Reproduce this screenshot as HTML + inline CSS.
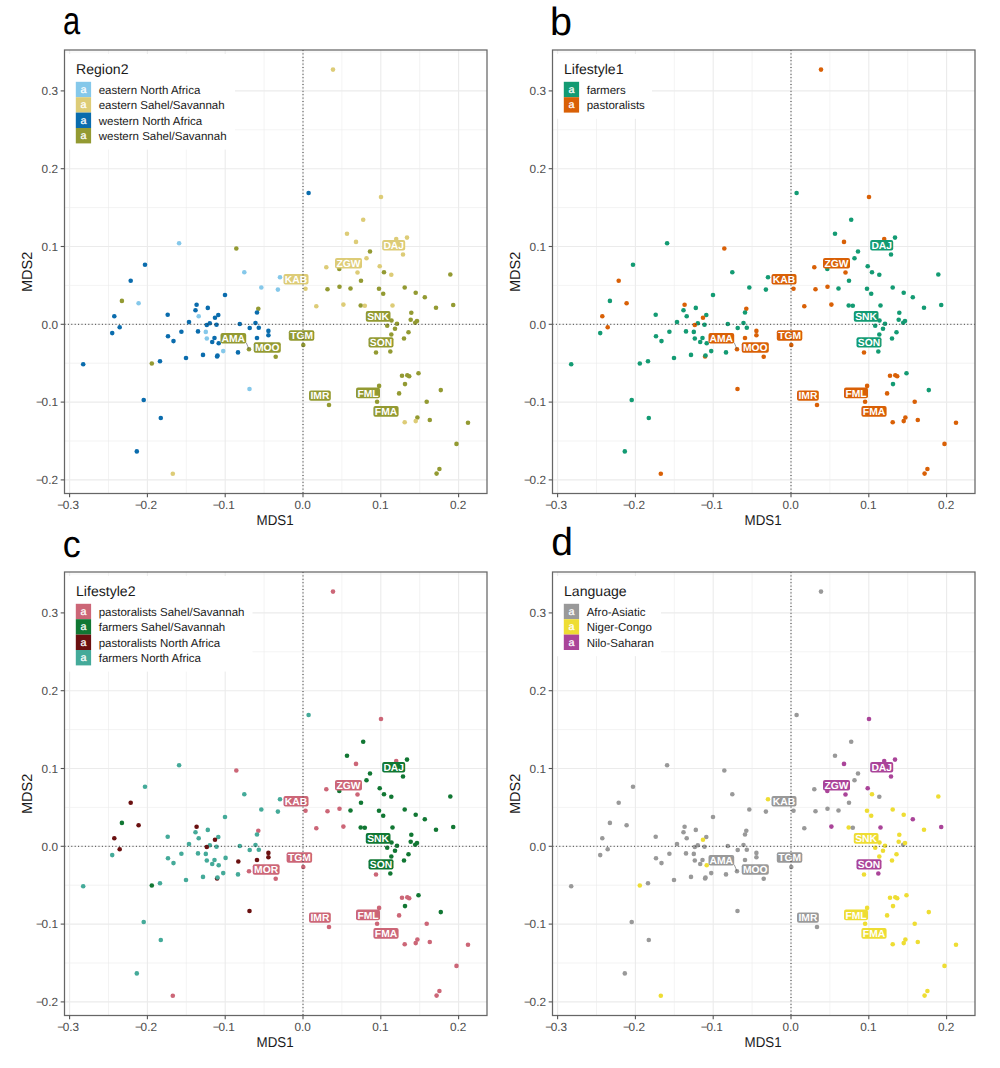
<!DOCTYPE html><html><head><meta charset="utf-8"><style>html,body{margin:0;padding:0;background:#fff;}svg{display:block;}text{font-family:"Liberation Sans",sans-serif;text-rendering:geometricPrecision;}</style></head><body><svg width="1000" height="1068" viewBox="0 0 1000 1068"><rect x="0" y="0" width="1000" height="1068" fill="#fff"/><g><g transform="translate(0,0)"><text x="0" y="0" font-size="39" fill="#000" transform="translate(63.0,34.0) scale(0.79,1.0)">a</text><line x1="69.60" y1="50.0" x2="69.60" y2="493.5" stroke="#EBEBEB" stroke-width="1.1"/><line x1="108.50" y1="50.0" x2="108.50" y2="493.5" stroke="#EBEBEB" stroke-width="0.6"/><line x1="147.40" y1="50.0" x2="147.40" y2="493.5" stroke="#EBEBEB" stroke-width="1.1"/><line x1="186.30" y1="50.0" x2="186.30" y2="493.5" stroke="#EBEBEB" stroke-width="0.6"/><line x1="225.20" y1="50.0" x2="225.20" y2="493.5" stroke="#EBEBEB" stroke-width="1.1"/><line x1="264.10" y1="50.0" x2="264.10" y2="493.5" stroke="#EBEBEB" stroke-width="0.6"/><line x1="303.00" y1="50.0" x2="303.00" y2="493.5" stroke="#EBEBEB" stroke-width="1.1"/><line x1="341.90" y1="50.0" x2="341.90" y2="493.5" stroke="#EBEBEB" stroke-width="0.6"/><line x1="380.80" y1="50.0" x2="380.80" y2="493.5" stroke="#EBEBEB" stroke-width="1.1"/><line x1="419.70" y1="50.0" x2="419.70" y2="493.5" stroke="#EBEBEB" stroke-width="0.6"/><line x1="458.60" y1="50.0" x2="458.60" y2="493.5" stroke="#EBEBEB" stroke-width="1.1"/><line x1="64.5" y1="479.90" x2="487.0" y2="479.90" stroke="#EBEBEB" stroke-width="1.1"/><line x1="64.5" y1="441.00" x2="487.0" y2="441.00" stroke="#EBEBEB" stroke-width="0.6"/><line x1="64.5" y1="402.10" x2="487.0" y2="402.10" stroke="#EBEBEB" stroke-width="1.1"/><line x1="64.5" y1="363.20" x2="487.0" y2="363.20" stroke="#EBEBEB" stroke-width="0.6"/><line x1="64.5" y1="324.30" x2="487.0" y2="324.30" stroke="#EBEBEB" stroke-width="1.1"/><line x1="64.5" y1="285.40" x2="487.0" y2="285.40" stroke="#EBEBEB" stroke-width="0.6"/><line x1="64.5" y1="246.50" x2="487.0" y2="246.50" stroke="#EBEBEB" stroke-width="1.1"/><line x1="64.5" y1="207.60" x2="487.0" y2="207.60" stroke="#EBEBEB" stroke-width="0.6"/><line x1="64.5" y1="168.70" x2="487.0" y2="168.70" stroke="#EBEBEB" stroke-width="1.1"/><line x1="64.5" y1="129.80" x2="487.0" y2="129.80" stroke="#EBEBEB" stroke-width="0.6"/><line x1="64.5" y1="90.90" x2="487.0" y2="90.90" stroke="#EBEBEB" stroke-width="1.1"/><line x1="64.5" y1="52.00" x2="487.0" y2="52.00" stroke="#EBEBEB" stroke-width="0.6"/><circle cx="179.1" cy="243.2" r="2.3" fill="#85C8EA"/><circle cx="145.0" cy="264.8" r="2.3" fill="#0A6CAD"/><circle cx="130.7" cy="280.8" r="2.3" fill="#0A6CAD"/><circle cx="121.9" cy="300.9" r="2.3" fill="#939A32"/><circle cx="138.6" cy="303.3" r="2.3" fill="#85C8EA"/><circle cx="114.3" cy="316.2" r="2.3" fill="#0A6CAD"/><circle cx="119.7" cy="327.3" r="2.3" fill="#0A6CAD"/><circle cx="112.2" cy="333.1" r="2.3" fill="#0A6CAD"/><circle cx="167.7" cy="314.7" r="2.3" fill="#0A6CAD"/><circle cx="168.0" cy="336.3" r="2.3" fill="#0A6CAD"/><circle cx="173.5" cy="341.1" r="2.3" fill="#0A6CAD"/><circle cx="181.4" cy="331.7" r="2.3" fill="#0A6CAD"/><circle cx="189.0" cy="322.1" r="2.3" fill="#0A6CAD"/><circle cx="196.6" cy="304.8" r="2.3" fill="#0A6CAD"/><circle cx="195.5" cy="310.2" r="2.3" fill="#0A6CAD"/><circle cx="198.7" cy="316.2" r="2.3" fill="#85C8EA"/><circle cx="198.0" cy="331.4" r="2.3" fill="#0A6CAD"/><circle cx="207.8" cy="307.9" r="2.3" fill="#0A6CAD"/><circle cx="209.8" cy="323.2" r="2.3" fill="#0A6CAD"/><circle cx="206.8" cy="325.0" r="2.3" fill="#0A6CAD"/><circle cx="205.8" cy="331.9" r="2.3" fill="#85C8EA"/><circle cx="206.8" cy="338.5" r="2.3" fill="#85C8EA"/><circle cx="261.3" cy="287.5" r="2.3" fill="#85C8EA"/><circle cx="277.9" cy="289.6" r="2.3" fill="#85C8EA"/><circle cx="225.0" cy="295.0" r="2.3" fill="#0A6CAD"/><circle cx="218.3" cy="315.0" r="2.3" fill="#0A6CAD"/><circle cx="215.0" cy="317.8" r="2.3" fill="#0A6CAD"/><circle cx="216.5" cy="324.7" r="2.3" fill="#0A6CAD"/><circle cx="239.8" cy="324.0" r="2.3" fill="#0A6CAD"/><circle cx="255.5" cy="323.0" r="2.3" fill="#0A6CAD"/><circle cx="249.7" cy="328.0" r="2.3" fill="#0A6CAD"/><circle cx="258.8" cy="327.7" r="2.3" fill="#0A6CAD"/><circle cx="258.3" cy="308.8" r="2.3" fill="#939A32"/><circle cx="257.0" cy="312.5" r="2.3" fill="#0A6CAD"/><circle cx="268.4" cy="330.9" r="2.3" fill="#0A6CAD"/><circle cx="268.4" cy="335.2" r="2.3" fill="#0A6CAD"/><circle cx="214.5" cy="338.0" r="2.3" fill="#0A6CAD"/><circle cx="212.2" cy="342.0" r="2.3" fill="#0A6CAD"/><circle cx="218.7" cy="343.2" r="2.3" fill="#0A6CAD"/><circle cx="257.0" cy="338.0" r="2.3" fill="#0A6CAD"/><circle cx="223.2" cy="351.1" r="2.3" fill="#85C8EA"/><circle cx="238.0" cy="352.4" r="2.3" fill="#0A6CAD"/><circle cx="249.0" cy="349.2" r="2.3" fill="#939A32"/><circle cx="203.0" cy="354.9" r="2.3" fill="#0A6CAD"/><circle cx="217.1" cy="356.5" r="2.3" fill="#0A6CAD"/><circle cx="217.5" cy="355.5" r="2.3" fill="#0A6CAD"/><circle cx="186.0" cy="358.0" r="2.3" fill="#0A6CAD"/><circle cx="275.7" cy="356.8" r="2.3" fill="#939A32"/><circle cx="236.3" cy="248.5" r="2.3" fill="#939A32"/><circle cx="244.3" cy="272.3" r="2.3" fill="#85C8EA"/><circle cx="280.0" cy="277.3" r="2.3" fill="#85C8EA"/><circle cx="305.5" cy="288.8" r="2.3" fill="#DDCC77"/><circle cx="333.0" cy="69.6" r="2.3" fill="#DDCC77"/><circle cx="308.6" cy="193.0" r="2.3" fill="#0A6CAD"/><circle cx="381.0" cy="197.0" r="2.3" fill="#DDCC77"/><circle cx="363.2" cy="219.8" r="2.3" fill="#DDCC77"/><circle cx="347.0" cy="233.7" r="2.3" fill="#DDCC77"/><circle cx="356.0" cy="241.9" r="2.3" fill="#DDCC77"/><circle cx="407.0" cy="237.6" r="2.3" fill="#DDCC77"/><circle cx="396.2" cy="239.0" r="2.3" fill="#DDCC77"/><circle cx="403.0" cy="254.5" r="2.3" fill="#DDCC77"/><circle cx="370.0" cy="251.5" r="2.3" fill="#939A32"/><circle cx="366.5" cy="258.2" r="2.3" fill="#DDCC77"/><circle cx="326.3" cy="267.3" r="2.3" fill="#DDCC77"/><circle cx="339.3" cy="269.0" r="2.3" fill="#939A32"/><circle cx="357.5" cy="272.5" r="2.3" fill="#DDCC77"/><circle cx="379.7" cy="266.2" r="2.3" fill="#DDCC77"/><circle cx="384.0" cy="272.2" r="2.3" fill="#939A32"/><circle cx="391.3" cy="274.7" r="2.3" fill="#DDCC77"/><circle cx="361.0" cy="280.7" r="2.3" fill="#939A32"/><circle cx="327.5" cy="289.3" r="2.3" fill="#939A32"/><circle cx="339.5" cy="286.7" r="2.3" fill="#939A32"/><circle cx="350.5" cy="288.5" r="2.3" fill="#939A32"/><circle cx="379.0" cy="288.7" r="2.3" fill="#939A32"/><circle cx="383.2" cy="293.8" r="2.3" fill="#939A32"/><circle cx="404.7" cy="287.5" r="2.3" fill="#939A32"/><circle cx="316.3" cy="306.2" r="2.3" fill="#DDCC77"/><circle cx="343.4" cy="304.6" r="2.3" fill="#DDCC77"/><circle cx="360.7" cy="305.5" r="2.3" fill="#939A32"/><circle cx="364.8" cy="305.7" r="2.3" fill="#DDCC77"/><circle cx="392.5" cy="305.5" r="2.3" fill="#DDCC77"/><circle cx="450.3" cy="274.5" r="2.3" fill="#939A32"/><circle cx="415.7" cy="292.7" r="2.3" fill="#939A32"/><circle cx="424.8" cy="297.2" r="2.3" fill="#939A32"/><circle cx="436.0" cy="307.8" r="2.3" fill="#939A32"/><circle cx="453.2" cy="305.0" r="2.3" fill="#939A32"/><circle cx="411.3" cy="312.7" r="2.3" fill="#939A32"/><circle cx="410.7" cy="319.8" r="2.3" fill="#939A32"/><circle cx="415.2" cy="322.8" r="2.3" fill="#939A32"/><circle cx="417.0" cy="321.0" r="2.3" fill="#939A32"/><circle cx="391.5" cy="320.5" r="2.3" fill="#939A32"/><circle cx="397.0" cy="323.7" r="2.3" fill="#939A32"/><circle cx="387.2" cy="325.8" r="2.3" fill="#939A32"/><circle cx="395.0" cy="328.8" r="2.3" fill="#939A32"/><circle cx="408.5" cy="332.2" r="2.3" fill="#939A32"/><circle cx="391.3" cy="334.5" r="2.3" fill="#939A32"/><circle cx="404.0" cy="338.5" r="2.3" fill="#939A32"/><circle cx="376.0" cy="352.5" r="2.3" fill="#939A32"/><circle cx="390.3" cy="351.5" r="2.3" fill="#939A32"/><circle cx="402.0" cy="375.7" r="2.3" fill="#939A32"/><circle cx="407.3" cy="375.2" r="2.3" fill="#939A32"/><circle cx="409.2" cy="376.2" r="2.3" fill="#939A32"/><circle cx="418.5" cy="373.2" r="2.3" fill="#939A32"/><circle cx="405.0" cy="384.1" r="2.3" fill="#939A32"/><circle cx="379.1" cy="385.9" r="2.3" fill="#939A32"/><circle cx="399.1" cy="393.4" r="2.3" fill="#939A32"/><circle cx="440.8" cy="390.1" r="2.3" fill="#939A32"/><circle cx="377.1" cy="401.8" r="2.3" fill="#939A32"/><circle cx="426.7" cy="401.7" r="2.3" fill="#939A32"/><circle cx="417.4" cy="417.5" r="2.3" fill="#939A32"/><circle cx="415.7" cy="421.1" r="2.3" fill="#DDCC77"/><circle cx="404.7" cy="422.2" r="2.3" fill="#DDCC77"/><circle cx="429.8" cy="420.0" r="2.3" fill="#939A32"/><circle cx="468.0" cy="422.8" r="2.3" fill="#939A32"/><circle cx="456.5" cy="443.9" r="2.3" fill="#939A32"/><circle cx="439.4" cy="469.0" r="2.3" fill="#939A32"/><circle cx="436.6" cy="473.6" r="2.3" fill="#939A32"/><circle cx="303.3" cy="345.0" r="2.3" fill="#939A32"/><circle cx="329.0" cy="405.0" r="2.3" fill="#939A32"/><circle cx="83.2" cy="364.3" r="2.3" fill="#0A6CAD"/><circle cx="151.8" cy="363.5" r="2.3" fill="#939A32"/><circle cx="160.0" cy="361.3" r="2.3" fill="#0A6CAD"/><circle cx="143.7" cy="400.0" r="2.3" fill="#0A6CAD"/><circle cx="160.8" cy="418.0" r="2.3" fill="#0A6CAD"/><circle cx="136.8" cy="451.4" r="2.3" fill="#0A6CAD"/><circle cx="172.8" cy="473.8" r="2.3" fill="#DDCC77"/><circle cx="249.5" cy="389.0" r="2.3" fill="#85C8EA"/><circle cx="225.6" cy="335.9" r="2.3" fill="#0A6CAD"/><circle cx="238.3" cy="339.5" r="2.3" fill="#0A6CAD"/><line x1="246.2" y1="342.6" x2="249.0" y2="349.2" stroke="#555" stroke-width="0.6"/><rect x="283.5" y="274.0" width="25.0" height="10.5" rx="2" fill="#DDCC77"/><text x="296.0" y="283.0" font-size="10.3" font-weight="bold" fill="#fff" text-anchor="middle">KAB</text><rect x="335.0" y="258.0" width="27.0" height="10.5" rx="2" fill="#DDCC77"/><text x="348.5" y="267.0" font-size="10.3" font-weight="bold" fill="#fff" text-anchor="middle">ZGW</text><rect x="382.2" y="240.0" width="23.0" height="10.5" rx="2" fill="#DDCC77"/><text x="393.7" y="249.0" font-size="10.3" font-weight="bold" fill="#fff" text-anchor="middle">DAJ</text><rect x="365.8" y="311.0" width="24.7" height="10.8" rx="2" fill="#939A32"/><text x="378.1" y="320.3" font-size="10.3" font-weight="bold" fill="#fff" text-anchor="middle">SNK</text><rect x="368.5" y="337.2" width="25.0" height="10.3" rx="2" fill="#939A32"/><text x="381.0" y="346.0" font-size="10.3" font-weight="bold" fill="#fff" text-anchor="middle">SON</text><rect x="220.5" y="333.0" width="25.7" height="10.5" rx="2" fill="#939A32"/><text x="233.3" y="342.0" font-size="10.3" font-weight="bold" fill="#fff" text-anchor="middle">AMA</text><rect x="253.7" y="342.2" width="27.1" height="10.6" rx="2" fill="#939A32"/><text x="267.2" y="351.3" font-size="10.3" font-weight="bold" fill="#fff" text-anchor="middle">MOO</text><rect x="288.8" y="330.3" width="25.5" height="10.5" rx="2" fill="#939A32"/><text x="301.6" y="339.3" font-size="10.3" font-weight="bold" fill="#fff" text-anchor="middle">TGM</text><rect x="309.0" y="390.5" width="21.8" height="10.3" rx="2" fill="#939A32"/><text x="319.9" y="399.3" font-size="10.3" font-weight="bold" fill="#fff" text-anchor="middle">IMR</text><rect x="356.0" y="387.4" width="24.0" height="10.8" rx="2" fill="#939A32"/><text x="368.0" y="396.7" font-size="10.3" font-weight="bold" fill="#fff" text-anchor="middle">FML</text><rect x="373.4" y="406.0" width="25.2" height="10.8" rx="2" fill="#939A32"/><text x="386.0" y="415.3" font-size="10.3" font-weight="bold" fill="#fff" text-anchor="middle">FMA</text><line x1="303.00" y1="50.0" x2="303.00" y2="493.5" stroke="#333" stroke-width="1" stroke-dasharray="1 2.4"/><line x1="64.5" y1="324.30" x2="487.0" y2="324.30" stroke="#333" stroke-width="1" stroke-dasharray="1 2.4"/><rect x="65" y="54" width="170" height="95.6" fill="#fff"/><text x="76" y="73.8" font-size="14.1" fill="#1a1a1a">Region2</text><rect x="75.8" y="81.8" width="15.3" height="15.4" fill="#85C8EA"/><text x="83.45" y="92.8" font-size="10.8" fill="#fff" stroke="#fff" stroke-width="0.25" text-anchor="middle">a</text><text x="98.7" y="94.0" font-size="11.5" fill="#1a1a1a">eastern North Africa</text><rect x="75.8" y="97.2" width="15.3" height="15.4" fill="#DDCC77"/><text x="83.45" y="108.2" font-size="10.8" fill="#fff" stroke="#fff" stroke-width="0.25" text-anchor="middle">a</text><text x="98.7" y="109.4" font-size="11.5" fill="#1a1a1a">eastern Sahel/Savannah</text><rect x="75.8" y="112.6" width="15.3" height="15.4" fill="#0A6CAD"/><text x="83.45" y="123.6" font-size="10.8" fill="#fff" stroke="#fff" stroke-width="0.25" text-anchor="middle">a</text><text x="98.7" y="124.8" font-size="11.5" fill="#1a1a1a">western North Africa</text><rect x="75.8" y="128.0" width="15.3" height="15.4" fill="#939A32"/><text x="83.45" y="139.0" font-size="10.8" fill="#fff" stroke="#fff" stroke-width="0.25" text-anchor="middle">a</text><text x="98.7" y="140.2" font-size="11.5" fill="#1a1a1a">western Sahel/Savannah</text><rect x="64.5" y="50.0" width="422.5" height="443.5" fill="none" stroke="#666" stroke-width="1.25"/><line x1="69.60" y1="493.5" x2="69.60" y2="497.3" stroke="#555" stroke-width="1.1"/><text x="68.20" y="509.0" font-size="11.8" fill="#4D4D4D" text-anchor="middle">−<tspan dx="-1.3">0.3</tspan></text><line x1="147.40" y1="493.5" x2="147.40" y2="497.3" stroke="#555" stroke-width="1.1"/><text x="146.00" y="509.0" font-size="11.8" fill="#4D4D4D" text-anchor="middle">−<tspan dx="-1.3">0.2</tspan></text><line x1="225.20" y1="493.5" x2="225.20" y2="497.3" stroke="#555" stroke-width="1.1"/><text x="223.80" y="509.0" font-size="11.8" fill="#4D4D4D" text-anchor="middle">−<tspan dx="-1.3">0.1</tspan></text><line x1="303.00" y1="493.5" x2="303.00" y2="497.3" stroke="#555" stroke-width="1.1"/><text x="302.60" y="509.0" font-size="11.8" fill="#4D4D4D" text-anchor="middle">0.0</text><line x1="380.80" y1="493.5" x2="380.80" y2="497.3" stroke="#555" stroke-width="1.1"/><text x="380.40" y="509.0" font-size="11.8" fill="#4D4D4D" text-anchor="middle">0.1</text><line x1="458.60" y1="493.5" x2="458.60" y2="497.3" stroke="#555" stroke-width="1.1"/><text x="458.20" y="509.0" font-size="11.8" fill="#4D4D4D" text-anchor="middle">0.2</text><line x1="60.7" y1="479.90" x2="64.5" y2="479.90" stroke="#555" stroke-width="1.1"/><text x="58.0" y="484.20" font-size="11.8" fill="#4D4D4D" text-anchor="end">−<tspan dx="-1.2">0.2</tspan></text><line x1="60.7" y1="402.10" x2="64.5" y2="402.10" stroke="#555" stroke-width="1.1"/><text x="58.0" y="406.40" font-size="11.8" fill="#4D4D4D" text-anchor="end">−<tspan dx="-1.2">0.1</tspan></text><line x1="60.7" y1="324.30" x2="64.5" y2="324.30" stroke="#555" stroke-width="1.1"/><text x="58.0" y="328.60" font-size="11.8" fill="#4D4D4D" text-anchor="end">0.0</text><line x1="60.7" y1="246.50" x2="64.5" y2="246.50" stroke="#555" stroke-width="1.1"/><text x="58.0" y="250.80" font-size="11.8" fill="#4D4D4D" text-anchor="end">0.1</text><line x1="60.7" y1="168.70" x2="64.5" y2="168.70" stroke="#555" stroke-width="1.1"/><text x="58.0" y="173.00" font-size="11.8" fill="#4D4D4D" text-anchor="end">0.2</text><line x1="60.7" y1="90.90" x2="64.5" y2="90.90" stroke="#555" stroke-width="1.1"/><text x="58.0" y="95.20" font-size="11.8" fill="#4D4D4D" text-anchor="end">0.3</text><text x="0" y="0" font-size="14.2" fill="#1a1a1a" text-anchor="middle" transform="translate(275.1,525.3) scale(0.94,1)">MDS1</text><text x="0" y="0" font-size="14.5" fill="#1a1a1a" text-anchor="middle" transform="translate(31.9,271.9) rotate(-90)">MDS2</text></g><g transform="translate(488,0)"><text x="0" y="0" font-size="39.5" fill="#000" transform="translate(62.0,34.6)">b</text><line x1="69.60" y1="50.0" x2="69.60" y2="493.5" stroke="#EBEBEB" stroke-width="1.1"/><line x1="108.50" y1="50.0" x2="108.50" y2="493.5" stroke="#EBEBEB" stroke-width="0.6"/><line x1="147.40" y1="50.0" x2="147.40" y2="493.5" stroke="#EBEBEB" stroke-width="1.1"/><line x1="186.30" y1="50.0" x2="186.30" y2="493.5" stroke="#EBEBEB" stroke-width="0.6"/><line x1="225.20" y1="50.0" x2="225.20" y2="493.5" stroke="#EBEBEB" stroke-width="1.1"/><line x1="264.10" y1="50.0" x2="264.10" y2="493.5" stroke="#EBEBEB" stroke-width="0.6"/><line x1="303.00" y1="50.0" x2="303.00" y2="493.5" stroke="#EBEBEB" stroke-width="1.1"/><line x1="341.90" y1="50.0" x2="341.90" y2="493.5" stroke="#EBEBEB" stroke-width="0.6"/><line x1="380.80" y1="50.0" x2="380.80" y2="493.5" stroke="#EBEBEB" stroke-width="1.1"/><line x1="419.70" y1="50.0" x2="419.70" y2="493.5" stroke="#EBEBEB" stroke-width="0.6"/><line x1="458.60" y1="50.0" x2="458.60" y2="493.5" stroke="#EBEBEB" stroke-width="1.1"/><line x1="64.5" y1="479.90" x2="487.0" y2="479.90" stroke="#EBEBEB" stroke-width="1.1"/><line x1="64.5" y1="441.00" x2="487.0" y2="441.00" stroke="#EBEBEB" stroke-width="0.6"/><line x1="64.5" y1="402.10" x2="487.0" y2="402.10" stroke="#EBEBEB" stroke-width="1.1"/><line x1="64.5" y1="363.20" x2="487.0" y2="363.20" stroke="#EBEBEB" stroke-width="0.6"/><line x1="64.5" y1="324.30" x2="487.0" y2="324.30" stroke="#EBEBEB" stroke-width="1.1"/><line x1="64.5" y1="285.40" x2="487.0" y2="285.40" stroke="#EBEBEB" stroke-width="0.6"/><line x1="64.5" y1="246.50" x2="487.0" y2="246.50" stroke="#EBEBEB" stroke-width="1.1"/><line x1="64.5" y1="207.60" x2="487.0" y2="207.60" stroke="#EBEBEB" stroke-width="0.6"/><line x1="64.5" y1="168.70" x2="487.0" y2="168.70" stroke="#EBEBEB" stroke-width="1.1"/><line x1="64.5" y1="129.80" x2="487.0" y2="129.80" stroke="#EBEBEB" stroke-width="0.6"/><line x1="64.5" y1="90.90" x2="487.0" y2="90.90" stroke="#EBEBEB" stroke-width="1.1"/><line x1="64.5" y1="52.00" x2="487.0" y2="52.00" stroke="#EBEBEB" stroke-width="0.6"/><circle cx="179.1" cy="243.2" r="2.3" fill="#139B73"/><circle cx="145.0" cy="264.8" r="2.3" fill="#139B73"/><circle cx="130.7" cy="280.8" r="2.3" fill="#D96006"/><circle cx="121.9" cy="300.9" r="2.3" fill="#139B73"/><circle cx="138.6" cy="303.3" r="2.3" fill="#D96006"/><circle cx="114.3" cy="316.2" r="2.3" fill="#D96006"/><circle cx="119.7" cy="327.3" r="2.3" fill="#D96006"/><circle cx="112.2" cy="333.1" r="2.3" fill="#139B73"/><circle cx="167.7" cy="314.7" r="2.3" fill="#139B73"/><circle cx="168.0" cy="336.3" r="2.3" fill="#139B73"/><circle cx="173.5" cy="341.1" r="2.3" fill="#139B73"/><circle cx="181.4" cy="331.7" r="2.3" fill="#139B73"/><circle cx="189.0" cy="322.1" r="2.3" fill="#139B73"/><circle cx="196.6" cy="304.8" r="2.3" fill="#D96006"/><circle cx="195.5" cy="310.2" r="2.3" fill="#139B73"/><circle cx="198.7" cy="316.2" r="2.3" fill="#139B73"/><circle cx="198.0" cy="331.4" r="2.3" fill="#139B73"/><circle cx="207.8" cy="307.9" r="2.3" fill="#139B73"/><circle cx="209.8" cy="323.2" r="2.3" fill="#139B73"/><circle cx="206.8" cy="325.0" r="2.3" fill="#D96006"/><circle cx="205.8" cy="331.9" r="2.3" fill="#139B73"/><circle cx="206.8" cy="338.5" r="2.3" fill="#139B73"/><circle cx="261.3" cy="287.5" r="2.3" fill="#139B73"/><circle cx="277.9" cy="289.6" r="2.3" fill="#139B73"/><circle cx="225.0" cy="295.0" r="2.3" fill="#139B73"/><circle cx="218.3" cy="315.0" r="2.3" fill="#139B73"/><circle cx="215.0" cy="317.8" r="2.3" fill="#D96006"/><circle cx="216.5" cy="324.7" r="2.3" fill="#139B73"/><circle cx="239.8" cy="324.0" r="2.3" fill="#139B73"/><circle cx="255.5" cy="323.0" r="2.3" fill="#139B73"/><circle cx="249.7" cy="328.0" r="2.3" fill="#139B73"/><circle cx="258.8" cy="327.7" r="2.3" fill="#139B73"/><circle cx="258.3" cy="308.8" r="2.3" fill="#D96006"/><circle cx="257.0" cy="312.5" r="2.3" fill="#139B73"/><circle cx="268.4" cy="330.9" r="2.3" fill="#D96006"/><circle cx="268.4" cy="335.2" r="2.3" fill="#D96006"/><circle cx="214.5" cy="338.0" r="2.3" fill="#139B73"/><circle cx="212.2" cy="342.0" r="2.3" fill="#139B73"/><circle cx="218.7" cy="343.2" r="2.3" fill="#139B73"/><circle cx="257.0" cy="338.0" r="2.3" fill="#D96006"/><circle cx="223.2" cy="351.1" r="2.3" fill="#139B73"/><circle cx="238.0" cy="352.4" r="2.3" fill="#139B73"/><circle cx="249.0" cy="349.2" r="2.3" fill="#D96006"/><circle cx="203.0" cy="354.9" r="2.3" fill="#139B73"/><circle cx="217.1" cy="356.5" r="2.3" fill="#D96006"/><circle cx="217.5" cy="355.5" r="2.3" fill="#139B73"/><circle cx="186.0" cy="358.0" r="2.3" fill="#139B73"/><circle cx="275.7" cy="356.8" r="2.3" fill="#D96006"/><circle cx="236.3" cy="248.5" r="2.3" fill="#D96006"/><circle cx="244.3" cy="272.3" r="2.3" fill="#139B73"/><circle cx="280.0" cy="277.3" r="2.3" fill="#139B73"/><circle cx="305.5" cy="288.8" r="2.3" fill="#D96006"/><circle cx="333.0" cy="69.6" r="2.3" fill="#D96006"/><circle cx="308.6" cy="193.0" r="2.3" fill="#139B73"/><circle cx="381.0" cy="197.0" r="2.3" fill="#D96006"/><circle cx="363.2" cy="219.8" r="2.3" fill="#139B73"/><circle cx="347.0" cy="233.7" r="2.3" fill="#139B73"/><circle cx="356.0" cy="241.9" r="2.3" fill="#D96006"/><circle cx="407.0" cy="237.6" r="2.3" fill="#139B73"/><circle cx="396.2" cy="239.0" r="2.3" fill="#D96006"/><circle cx="403.0" cy="254.5" r="2.3" fill="#139B73"/><circle cx="370.0" cy="251.5" r="2.3" fill="#139B73"/><circle cx="366.5" cy="258.2" r="2.3" fill="#139B73"/><circle cx="326.3" cy="267.3" r="2.3" fill="#D96006"/><circle cx="339.3" cy="269.0" r="2.3" fill="#139B73"/><circle cx="357.5" cy="272.5" r="2.3" fill="#D96006"/><circle cx="379.7" cy="266.2" r="2.3" fill="#139B73"/><circle cx="384.0" cy="272.2" r="2.3" fill="#139B73"/><circle cx="391.3" cy="274.7" r="2.3" fill="#139B73"/><circle cx="361.0" cy="280.7" r="2.3" fill="#139B73"/><circle cx="327.5" cy="289.3" r="2.3" fill="#D96006"/><circle cx="339.5" cy="286.7" r="2.3" fill="#D96006"/><circle cx="350.5" cy="288.5" r="2.3" fill="#139B73"/><circle cx="379.0" cy="288.7" r="2.3" fill="#139B73"/><circle cx="383.2" cy="293.8" r="2.3" fill="#139B73"/><circle cx="404.7" cy="287.5" r="2.3" fill="#139B73"/><circle cx="316.3" cy="306.2" r="2.3" fill="#D96006"/><circle cx="343.4" cy="304.6" r="2.3" fill="#D96006"/><circle cx="360.7" cy="305.5" r="2.3" fill="#139B73"/><circle cx="364.8" cy="305.7" r="2.3" fill="#139B73"/><circle cx="392.5" cy="305.5" r="2.3" fill="#139B73"/><circle cx="450.3" cy="274.5" r="2.3" fill="#139B73"/><circle cx="415.7" cy="292.7" r="2.3" fill="#139B73"/><circle cx="424.8" cy="297.2" r="2.3" fill="#139B73"/><circle cx="436.0" cy="307.8" r="2.3" fill="#139B73"/><circle cx="453.2" cy="305.0" r="2.3" fill="#139B73"/><circle cx="411.3" cy="312.7" r="2.3" fill="#139B73"/><circle cx="410.7" cy="319.8" r="2.3" fill="#139B73"/><circle cx="415.2" cy="322.8" r="2.3" fill="#139B73"/><circle cx="417.0" cy="321.0" r="2.3" fill="#139B73"/><circle cx="391.5" cy="320.5" r="2.3" fill="#139B73"/><circle cx="397.0" cy="323.7" r="2.3" fill="#139B73"/><circle cx="387.2" cy="325.8" r="2.3" fill="#139B73"/><circle cx="395.0" cy="328.8" r="2.3" fill="#139B73"/><circle cx="408.5" cy="332.2" r="2.3" fill="#139B73"/><circle cx="391.3" cy="334.5" r="2.3" fill="#139B73"/><circle cx="404.0" cy="338.5" r="2.3" fill="#139B73"/><circle cx="376.0" cy="352.5" r="2.3" fill="#D96006"/><circle cx="390.3" cy="351.5" r="2.3" fill="#139B73"/><circle cx="402.0" cy="375.7" r="2.3" fill="#D96006"/><circle cx="407.3" cy="375.2" r="2.3" fill="#D96006"/><circle cx="409.2" cy="376.2" r="2.3" fill="#D96006"/><circle cx="418.5" cy="373.2" r="2.3" fill="#139B73"/><circle cx="405.0" cy="384.1" r="2.3" fill="#139B73"/><circle cx="379.1" cy="385.9" r="2.3" fill="#D96006"/><circle cx="399.1" cy="393.4" r="2.3" fill="#D96006"/><circle cx="440.8" cy="390.1" r="2.3" fill="#139B73"/><circle cx="377.1" cy="401.8" r="2.3" fill="#D96006"/><circle cx="426.7" cy="401.7" r="2.3" fill="#D96006"/><circle cx="417.4" cy="417.5" r="2.3" fill="#D96006"/><circle cx="415.7" cy="421.1" r="2.3" fill="#D96006"/><circle cx="404.7" cy="422.2" r="2.3" fill="#D96006"/><circle cx="429.8" cy="420.0" r="2.3" fill="#D96006"/><circle cx="468.0" cy="422.8" r="2.3" fill="#D96006"/><circle cx="456.5" cy="443.9" r="2.3" fill="#D96006"/><circle cx="439.4" cy="469.0" r="2.3" fill="#D96006"/><circle cx="436.6" cy="473.6" r="2.3" fill="#D96006"/><circle cx="303.3" cy="345.0" r="2.3" fill="#D96006"/><circle cx="329.0" cy="405.0" r="2.3" fill="#D96006"/><circle cx="83.2" cy="364.3" r="2.3" fill="#139B73"/><circle cx="151.8" cy="363.5" r="2.3" fill="#139B73"/><circle cx="160.0" cy="361.3" r="2.3" fill="#139B73"/><circle cx="143.7" cy="400.0" r="2.3" fill="#139B73"/><circle cx="160.8" cy="418.0" r="2.3" fill="#139B73"/><circle cx="136.8" cy="451.4" r="2.3" fill="#139B73"/><circle cx="172.8" cy="473.8" r="2.3" fill="#D96006"/><circle cx="249.5" cy="389.0" r="2.3" fill="#D96006"/><circle cx="225.6" cy="335.9" r="2.3" fill="#139B73"/><circle cx="238.3" cy="339.5" r="2.3" fill="#D96006"/><line x1="246.2" y1="342.6" x2="249.0" y2="349.2" stroke="#555" stroke-width="0.6"/><rect x="283.5" y="274.0" width="25.0" height="10.5" rx="2" fill="#D96006"/><text x="296.0" y="283.0" font-size="10.3" font-weight="bold" fill="#fff" text-anchor="middle">KAB</text><rect x="335.0" y="258.0" width="27.0" height="10.5" rx="2" fill="#D96006"/><text x="348.5" y="267.0" font-size="10.3" font-weight="bold" fill="#fff" text-anchor="middle">ZGW</text><rect x="382.2" y="240.0" width="23.0" height="10.5" rx="2" fill="#139B73"/><text x="393.7" y="249.0" font-size="10.3" font-weight="bold" fill="#fff" text-anchor="middle">DAJ</text><rect x="365.8" y="311.0" width="24.7" height="10.8" rx="2" fill="#139B73"/><text x="378.1" y="320.3" font-size="10.3" font-weight="bold" fill="#fff" text-anchor="middle">SNK</text><rect x="368.5" y="337.2" width="25.0" height="10.3" rx="2" fill="#139B73"/><text x="381.0" y="346.0" font-size="10.3" font-weight="bold" fill="#fff" text-anchor="middle">SON</text><rect x="220.5" y="333.0" width="25.7" height="10.5" rx="2" fill="#D96006"/><text x="233.3" y="342.0" font-size="10.3" font-weight="bold" fill="#fff" text-anchor="middle">AMA</text><rect x="253.7" y="342.2" width="27.1" height="10.6" rx="2" fill="#D96006"/><text x="267.2" y="351.3" font-size="10.3" font-weight="bold" fill="#fff" text-anchor="middle">MOO</text><rect x="288.8" y="330.3" width="25.5" height="10.5" rx="2" fill="#D96006"/><text x="301.6" y="339.3" font-size="10.3" font-weight="bold" fill="#fff" text-anchor="middle">TGM</text><rect x="309.0" y="390.5" width="21.8" height="10.3" rx="2" fill="#D96006"/><text x="319.9" y="399.3" font-size="10.3" font-weight="bold" fill="#fff" text-anchor="middle">IMR</text><rect x="356.0" y="387.4" width="24.0" height="10.8" rx="2" fill="#D96006"/><text x="368.0" y="396.7" font-size="10.3" font-weight="bold" fill="#fff" text-anchor="middle">FML</text><rect x="373.4" y="406.0" width="25.2" height="10.8" rx="2" fill="#D96006"/><text x="386.0" y="415.3" font-size="10.3" font-weight="bold" fill="#fff" text-anchor="middle">FMA</text><line x1="303.00" y1="50.0" x2="303.00" y2="493.5" stroke="#333" stroke-width="1" stroke-dasharray="1 2.4"/><line x1="64.5" y1="324.30" x2="487.0" y2="324.30" stroke="#333" stroke-width="1" stroke-dasharray="1 2.4"/><rect x="65" y="54" width="99" height="64.8" fill="#fff"/><text x="76" y="73.8" font-size="14.1" fill="#1a1a1a">Lifestyle1</text><rect x="75.8" y="81.8" width="15.3" height="15.4" fill="#139B73"/><text x="83.45" y="92.8" font-size="10.8" fill="#fff" stroke="#fff" stroke-width="0.25" text-anchor="middle">a</text><text x="98.7" y="94.0" font-size="11.5" fill="#1a1a1a">farmers</text><rect x="75.8" y="97.2" width="15.3" height="15.4" fill="#D96006"/><text x="83.45" y="108.2" font-size="10.8" fill="#fff" stroke="#fff" stroke-width="0.25" text-anchor="middle">a</text><text x="98.7" y="109.4" font-size="11.5" fill="#1a1a1a">pastoralists</text><rect x="64.5" y="50.0" width="422.5" height="443.5" fill="none" stroke="#666" stroke-width="1.25"/><line x1="69.60" y1="493.5" x2="69.60" y2="497.3" stroke="#555" stroke-width="1.1"/><text x="68.20" y="509.0" font-size="11.8" fill="#4D4D4D" text-anchor="middle">−<tspan dx="-1.3">0.3</tspan></text><line x1="147.40" y1="493.5" x2="147.40" y2="497.3" stroke="#555" stroke-width="1.1"/><text x="146.00" y="509.0" font-size="11.8" fill="#4D4D4D" text-anchor="middle">−<tspan dx="-1.3">0.2</tspan></text><line x1="225.20" y1="493.5" x2="225.20" y2="497.3" stroke="#555" stroke-width="1.1"/><text x="223.80" y="509.0" font-size="11.8" fill="#4D4D4D" text-anchor="middle">−<tspan dx="-1.3">0.1</tspan></text><line x1="303.00" y1="493.5" x2="303.00" y2="497.3" stroke="#555" stroke-width="1.1"/><text x="302.60" y="509.0" font-size="11.8" fill="#4D4D4D" text-anchor="middle">0.0</text><line x1="380.80" y1="493.5" x2="380.80" y2="497.3" stroke="#555" stroke-width="1.1"/><text x="380.40" y="509.0" font-size="11.8" fill="#4D4D4D" text-anchor="middle">0.1</text><line x1="458.60" y1="493.5" x2="458.60" y2="497.3" stroke="#555" stroke-width="1.1"/><text x="458.20" y="509.0" font-size="11.8" fill="#4D4D4D" text-anchor="middle">0.2</text><line x1="60.7" y1="479.90" x2="64.5" y2="479.90" stroke="#555" stroke-width="1.1"/><text x="58.0" y="484.20" font-size="11.8" fill="#4D4D4D" text-anchor="end">−<tspan dx="-1.2">0.2</tspan></text><line x1="60.7" y1="402.10" x2="64.5" y2="402.10" stroke="#555" stroke-width="1.1"/><text x="58.0" y="406.40" font-size="11.8" fill="#4D4D4D" text-anchor="end">−<tspan dx="-1.2">0.1</tspan></text><line x1="60.7" y1="324.30" x2="64.5" y2="324.30" stroke="#555" stroke-width="1.1"/><text x="58.0" y="328.60" font-size="11.8" fill="#4D4D4D" text-anchor="end">0.0</text><line x1="60.7" y1="246.50" x2="64.5" y2="246.50" stroke="#555" stroke-width="1.1"/><text x="58.0" y="250.80" font-size="11.8" fill="#4D4D4D" text-anchor="end">0.1</text><line x1="60.7" y1="168.70" x2="64.5" y2="168.70" stroke="#555" stroke-width="1.1"/><text x="58.0" y="173.00" font-size="11.8" fill="#4D4D4D" text-anchor="end">0.2</text><line x1="60.7" y1="90.90" x2="64.5" y2="90.90" stroke="#555" stroke-width="1.1"/><text x="58.0" y="95.20" font-size="11.8" fill="#4D4D4D" text-anchor="end">0.3</text><text x="0" y="0" font-size="14.2" fill="#1a1a1a" text-anchor="middle" transform="translate(275.1,525.3) scale(0.94,1)">MDS1</text><text x="0" y="0" font-size="14.5" fill="#1a1a1a" text-anchor="middle" transform="translate(31.9,271.9) rotate(-90)">MDS2</text></g><g transform="translate(0,522)"><text x="0" y="0" font-size="39" fill="#000" transform="translate(62.8,34.6) scale(0.92,0.96)">c</text><line x1="69.60" y1="50.0" x2="69.60" y2="493.5" stroke="#EBEBEB" stroke-width="1.1"/><line x1="108.50" y1="50.0" x2="108.50" y2="493.5" stroke="#EBEBEB" stroke-width="0.6"/><line x1="147.40" y1="50.0" x2="147.40" y2="493.5" stroke="#EBEBEB" stroke-width="1.1"/><line x1="186.30" y1="50.0" x2="186.30" y2="493.5" stroke="#EBEBEB" stroke-width="0.6"/><line x1="225.20" y1="50.0" x2="225.20" y2="493.5" stroke="#EBEBEB" stroke-width="1.1"/><line x1="264.10" y1="50.0" x2="264.10" y2="493.5" stroke="#EBEBEB" stroke-width="0.6"/><line x1="303.00" y1="50.0" x2="303.00" y2="493.5" stroke="#EBEBEB" stroke-width="1.1"/><line x1="341.90" y1="50.0" x2="341.90" y2="493.5" stroke="#EBEBEB" stroke-width="0.6"/><line x1="380.80" y1="50.0" x2="380.80" y2="493.5" stroke="#EBEBEB" stroke-width="1.1"/><line x1="419.70" y1="50.0" x2="419.70" y2="493.5" stroke="#EBEBEB" stroke-width="0.6"/><line x1="458.60" y1="50.0" x2="458.60" y2="493.5" stroke="#EBEBEB" stroke-width="1.1"/><line x1="64.5" y1="479.90" x2="487.0" y2="479.90" stroke="#EBEBEB" stroke-width="1.1"/><line x1="64.5" y1="441.00" x2="487.0" y2="441.00" stroke="#EBEBEB" stroke-width="0.6"/><line x1="64.5" y1="402.10" x2="487.0" y2="402.10" stroke="#EBEBEB" stroke-width="1.1"/><line x1="64.5" y1="363.20" x2="487.0" y2="363.20" stroke="#EBEBEB" stroke-width="0.6"/><line x1="64.5" y1="324.30" x2="487.0" y2="324.30" stroke="#EBEBEB" stroke-width="1.1"/><line x1="64.5" y1="285.40" x2="487.0" y2="285.40" stroke="#EBEBEB" stroke-width="0.6"/><line x1="64.5" y1="246.50" x2="487.0" y2="246.50" stroke="#EBEBEB" stroke-width="1.1"/><line x1="64.5" y1="207.60" x2="487.0" y2="207.60" stroke="#EBEBEB" stroke-width="0.6"/><line x1="64.5" y1="168.70" x2="487.0" y2="168.70" stroke="#EBEBEB" stroke-width="1.1"/><line x1="64.5" y1="129.80" x2="487.0" y2="129.80" stroke="#EBEBEB" stroke-width="0.6"/><line x1="64.5" y1="90.90" x2="487.0" y2="90.90" stroke="#EBEBEB" stroke-width="1.1"/><line x1="64.5" y1="52.00" x2="487.0" y2="52.00" stroke="#EBEBEB" stroke-width="0.6"/><circle cx="179.1" cy="243.2" r="2.3" fill="#44AA99"/><circle cx="145.0" cy="264.8" r="2.3" fill="#44AA99"/><circle cx="130.7" cy="280.8" r="2.3" fill="#6A1010"/><circle cx="121.9" cy="300.9" r="2.3" fill="#117733"/><circle cx="138.6" cy="303.3" r="2.3" fill="#6A1010"/><circle cx="114.3" cy="316.2" r="2.3" fill="#6A1010"/><circle cx="119.7" cy="327.3" r="2.3" fill="#6A1010"/><circle cx="112.2" cy="333.1" r="2.3" fill="#44AA99"/><circle cx="167.7" cy="314.7" r="2.3" fill="#44AA99"/><circle cx="168.0" cy="336.3" r="2.3" fill="#44AA99"/><circle cx="173.5" cy="341.1" r="2.3" fill="#44AA99"/><circle cx="181.4" cy="331.7" r="2.3" fill="#44AA99"/><circle cx="189.0" cy="322.1" r="2.3" fill="#44AA99"/><circle cx="196.6" cy="304.8" r="2.3" fill="#6A1010"/><circle cx="195.5" cy="310.2" r="2.3" fill="#44AA99"/><circle cx="198.7" cy="316.2" r="2.3" fill="#44AA99"/><circle cx="198.0" cy="331.4" r="2.3" fill="#44AA99"/><circle cx="207.8" cy="307.9" r="2.3" fill="#44AA99"/><circle cx="209.8" cy="323.2" r="2.3" fill="#44AA99"/><circle cx="206.8" cy="325.0" r="2.3" fill="#6A1010"/><circle cx="205.8" cy="331.9" r="2.3" fill="#44AA99"/><circle cx="206.8" cy="338.5" r="2.3" fill="#44AA99"/><circle cx="261.3" cy="287.5" r="2.3" fill="#44AA99"/><circle cx="277.9" cy="289.6" r="2.3" fill="#44AA99"/><circle cx="225.0" cy="295.0" r="2.3" fill="#44AA99"/><circle cx="218.3" cy="315.0" r="2.3" fill="#44AA99"/><circle cx="215.0" cy="317.8" r="2.3" fill="#6A1010"/><circle cx="216.5" cy="324.7" r="2.3" fill="#44AA99"/><circle cx="239.8" cy="324.0" r="2.3" fill="#44AA99"/><circle cx="255.5" cy="323.0" r="2.3" fill="#44AA99"/><circle cx="249.7" cy="328.0" r="2.3" fill="#44AA99"/><circle cx="258.8" cy="327.7" r="2.3" fill="#44AA99"/><circle cx="258.3" cy="308.8" r="2.3" fill="#CC6677"/><circle cx="257.0" cy="312.5" r="2.3" fill="#44AA99"/><circle cx="268.4" cy="330.9" r="2.3" fill="#6A1010"/><circle cx="268.4" cy="335.2" r="2.3" fill="#6A1010"/><circle cx="214.5" cy="338.0" r="2.3" fill="#44AA99"/><circle cx="212.2" cy="342.0" r="2.3" fill="#44AA99"/><circle cx="218.7" cy="343.2" r="2.3" fill="#44AA99"/><circle cx="257.0" cy="338.0" r="2.3" fill="#6A1010"/><circle cx="223.2" cy="351.1" r="2.3" fill="#44AA99"/><circle cx="238.0" cy="352.4" r="2.3" fill="#44AA99"/><circle cx="249.0" cy="349.2" r="2.3" fill="#CC6677"/><circle cx="203.0" cy="354.9" r="2.3" fill="#44AA99"/><circle cx="217.1" cy="356.5" r="2.3" fill="#6A1010"/><circle cx="217.5" cy="355.5" r="2.3" fill="#44AA99"/><circle cx="186.0" cy="358.0" r="2.3" fill="#44AA99"/><circle cx="275.7" cy="356.8" r="2.3" fill="#CC6677"/><circle cx="236.3" cy="248.5" r="2.3" fill="#CC6677"/><circle cx="244.3" cy="272.3" r="2.3" fill="#44AA99"/><circle cx="280.0" cy="277.3" r="2.3" fill="#44AA99"/><circle cx="305.5" cy="288.8" r="2.3" fill="#CC6677"/><circle cx="333.0" cy="69.6" r="2.3" fill="#CC6677"/><circle cx="308.6" cy="193.0" r="2.3" fill="#44AA99"/><circle cx="381.0" cy="197.0" r="2.3" fill="#CC6677"/><circle cx="363.2" cy="219.8" r="2.3" fill="#117733"/><circle cx="347.0" cy="233.7" r="2.3" fill="#117733"/><circle cx="356.0" cy="241.9" r="2.3" fill="#CC6677"/><circle cx="407.0" cy="237.6" r="2.3" fill="#117733"/><circle cx="396.2" cy="239.0" r="2.3" fill="#CC6677"/><circle cx="403.0" cy="254.5" r="2.3" fill="#117733"/><circle cx="370.0" cy="251.5" r="2.3" fill="#117733"/><circle cx="366.5" cy="258.2" r="2.3" fill="#117733"/><circle cx="326.3" cy="267.3" r="2.3" fill="#CC6677"/><circle cx="339.3" cy="269.0" r="2.3" fill="#117733"/><circle cx="357.5" cy="272.5" r="2.3" fill="#CC6677"/><circle cx="379.7" cy="266.2" r="2.3" fill="#117733"/><circle cx="384.0" cy="272.2" r="2.3" fill="#117733"/><circle cx="391.3" cy="274.7" r="2.3" fill="#117733"/><circle cx="361.0" cy="280.7" r="2.3" fill="#117733"/><circle cx="327.5" cy="289.3" r="2.3" fill="#CC6677"/><circle cx="339.5" cy="286.7" r="2.3" fill="#CC6677"/><circle cx="350.5" cy="288.5" r="2.3" fill="#117733"/><circle cx="379.0" cy="288.7" r="2.3" fill="#117733"/><circle cx="383.2" cy="293.8" r="2.3" fill="#117733"/><circle cx="404.7" cy="287.5" r="2.3" fill="#117733"/><circle cx="316.3" cy="306.2" r="2.3" fill="#CC6677"/><circle cx="343.4" cy="304.6" r="2.3" fill="#CC6677"/><circle cx="360.7" cy="305.5" r="2.3" fill="#117733"/><circle cx="364.8" cy="305.7" r="2.3" fill="#117733"/><circle cx="392.5" cy="305.5" r="2.3" fill="#117733"/><circle cx="450.3" cy="274.5" r="2.3" fill="#117733"/><circle cx="415.7" cy="292.7" r="2.3" fill="#117733"/><circle cx="424.8" cy="297.2" r="2.3" fill="#117733"/><circle cx="436.0" cy="307.8" r="2.3" fill="#117733"/><circle cx="453.2" cy="305.0" r="2.3" fill="#117733"/><circle cx="411.3" cy="312.7" r="2.3" fill="#117733"/><circle cx="410.7" cy="319.8" r="2.3" fill="#117733"/><circle cx="415.2" cy="322.8" r="2.3" fill="#117733"/><circle cx="417.0" cy="321.0" r="2.3" fill="#117733"/><circle cx="391.5" cy="320.5" r="2.3" fill="#117733"/><circle cx="397.0" cy="323.7" r="2.3" fill="#117733"/><circle cx="387.2" cy="325.8" r="2.3" fill="#117733"/><circle cx="395.0" cy="328.8" r="2.3" fill="#117733"/><circle cx="408.5" cy="332.2" r="2.3" fill="#117733"/><circle cx="391.3" cy="334.5" r="2.3" fill="#117733"/><circle cx="404.0" cy="338.5" r="2.3" fill="#117733"/><circle cx="376.0" cy="352.5" r="2.3" fill="#CC6677"/><circle cx="390.3" cy="351.5" r="2.3" fill="#117733"/><circle cx="402.0" cy="375.7" r="2.3" fill="#CC6677"/><circle cx="407.3" cy="375.2" r="2.3" fill="#CC6677"/><circle cx="409.2" cy="376.2" r="2.3" fill="#CC6677"/><circle cx="418.5" cy="373.2" r="2.3" fill="#117733"/><circle cx="405.0" cy="384.1" r="2.3" fill="#117733"/><circle cx="379.1" cy="385.9" r="2.3" fill="#CC6677"/><circle cx="399.1" cy="393.4" r="2.3" fill="#CC6677"/><circle cx="440.8" cy="390.1" r="2.3" fill="#117733"/><circle cx="377.1" cy="401.8" r="2.3" fill="#CC6677"/><circle cx="426.7" cy="401.7" r="2.3" fill="#CC6677"/><circle cx="417.4" cy="417.5" r="2.3" fill="#CC6677"/><circle cx="415.7" cy="421.1" r="2.3" fill="#CC6677"/><circle cx="404.7" cy="422.2" r="2.3" fill="#CC6677"/><circle cx="429.8" cy="420.0" r="2.3" fill="#CC6677"/><circle cx="468.0" cy="422.8" r="2.3" fill="#CC6677"/><circle cx="456.5" cy="443.9" r="2.3" fill="#CC6677"/><circle cx="439.4" cy="469.0" r="2.3" fill="#CC6677"/><circle cx="436.6" cy="473.6" r="2.3" fill="#CC6677"/><circle cx="303.3" cy="345.0" r="2.3" fill="#CC6677"/><circle cx="329.0" cy="405.0" r="2.3" fill="#CC6677"/><circle cx="83.2" cy="364.3" r="2.3" fill="#44AA99"/><circle cx="151.8" cy="363.5" r="2.3" fill="#117733"/><circle cx="160.0" cy="361.3" r="2.3" fill="#44AA99"/><circle cx="143.7" cy="400.0" r="2.3" fill="#44AA99"/><circle cx="160.8" cy="418.0" r="2.3" fill="#44AA99"/><circle cx="136.8" cy="451.4" r="2.3" fill="#44AA99"/><circle cx="172.8" cy="473.8" r="2.3" fill="#CC6677"/><circle cx="249.5" cy="389.0" r="2.3" fill="#6A1010"/><circle cx="225.6" cy="335.9" r="2.3" fill="#44AA99"/><circle cx="238.3" cy="339.5" r="2.3" fill="#6A1010"/><rect x="283.5" y="274.0" width="25.0" height="10.5" rx="2" fill="#CC6677"/><text x="296.0" y="283.0" font-size="10.3" font-weight="bold" fill="#fff" text-anchor="middle">KAB</text><rect x="335.0" y="258.0" width="27.0" height="10.5" rx="2" fill="#CC6677"/><text x="348.5" y="267.0" font-size="10.3" font-weight="bold" fill="#fff" text-anchor="middle">ZGW</text><rect x="382.2" y="240.0" width="23.0" height="10.5" rx="2" fill="#117733"/><text x="393.7" y="249.0" font-size="10.3" font-weight="bold" fill="#fff" text-anchor="middle">DAJ</text><rect x="365.8" y="311.0" width="24.7" height="10.8" rx="2" fill="#117733"/><text x="378.1" y="320.3" font-size="10.3" font-weight="bold" fill="#fff" text-anchor="middle">SNK</text><rect x="368.5" y="337.2" width="25.0" height="10.3" rx="2" fill="#117733"/><text x="381.0" y="346.0" font-size="10.3" font-weight="bold" fill="#fff" text-anchor="middle">SON</text><rect x="252.7" y="342.2" width="26.9" height="10.6" rx="2" fill="#CC6677"/><text x="266.1" y="351.3" font-size="10.3" font-weight="bold" fill="#fff" text-anchor="middle">MOR</text><rect x="286.6" y="330.3" width="25.5" height="10.5" rx="2" fill="#CC6677"/><text x="299.4" y="339.3" font-size="10.3" font-weight="bold" fill="#fff" text-anchor="middle">TGM</text><rect x="309.0" y="390.5" width="21.8" height="10.3" rx="2" fill="#CC6677"/><text x="319.9" y="399.3" font-size="10.3" font-weight="bold" fill="#fff" text-anchor="middle">IMR</text><rect x="356.0" y="387.4" width="24.0" height="10.8" rx="2" fill="#CC6677"/><text x="368.0" y="396.7" font-size="10.3" font-weight="bold" fill="#fff" text-anchor="middle">FML</text><rect x="373.4" y="406.0" width="25.2" height="10.8" rx="2" fill="#CC6677"/><text x="386.0" y="415.3" font-size="10.3" font-weight="bold" fill="#fff" text-anchor="middle">FMA</text><line x1="303.00" y1="50.0" x2="303.00" y2="493.5" stroke="#333" stroke-width="1" stroke-dasharray="1 2.4"/><line x1="64.5" y1="324.30" x2="487.0" y2="324.30" stroke="#333" stroke-width="1" stroke-dasharray="1 2.4"/><rect x="65" y="54" width="187.5" height="95.6" fill="#fff"/><text x="76" y="73.8" font-size="14.1" fill="#1a1a1a">Lifestyle2</text><rect x="75.8" y="81.8" width="15.3" height="15.4" fill="#CC6677"/><text x="83.45" y="92.8" font-size="10.8" fill="#fff" stroke="#fff" stroke-width="0.25" text-anchor="middle">a</text><text x="98.7" y="94.0" font-size="11.5" fill="#1a1a1a">pastoralists Sahel/Savannah</text><rect x="75.8" y="97.2" width="15.3" height="15.4" fill="#117733"/><text x="83.45" y="108.2" font-size="10.8" fill="#fff" stroke="#fff" stroke-width="0.25" text-anchor="middle">a</text><text x="98.7" y="109.4" font-size="11.5" fill="#1a1a1a">farmers Sahel/Savannah</text><rect x="75.8" y="112.6" width="15.3" height="15.4" fill="#6A1010"/><text x="83.45" y="123.6" font-size="10.8" fill="#fff" stroke="#fff" stroke-width="0.25" text-anchor="middle">a</text><text x="98.7" y="124.8" font-size="11.5" fill="#1a1a1a">pastoralists North Africa</text><rect x="75.8" y="128.0" width="15.3" height="15.4" fill="#44AA99"/><text x="83.45" y="139.0" font-size="10.8" fill="#fff" stroke="#fff" stroke-width="0.25" text-anchor="middle">a</text><text x="98.7" y="140.2" font-size="11.5" fill="#1a1a1a">farmers North Africa</text><rect x="64.5" y="50.0" width="422.5" height="443.5" fill="none" stroke="#666" stroke-width="1.25"/><line x1="69.60" y1="493.5" x2="69.60" y2="497.3" stroke="#555" stroke-width="1.1"/><text x="68.20" y="509.0" font-size="11.8" fill="#4D4D4D" text-anchor="middle">−<tspan dx="-1.3">0.3</tspan></text><line x1="147.40" y1="493.5" x2="147.40" y2="497.3" stroke="#555" stroke-width="1.1"/><text x="146.00" y="509.0" font-size="11.8" fill="#4D4D4D" text-anchor="middle">−<tspan dx="-1.3">0.2</tspan></text><line x1="225.20" y1="493.5" x2="225.20" y2="497.3" stroke="#555" stroke-width="1.1"/><text x="223.80" y="509.0" font-size="11.8" fill="#4D4D4D" text-anchor="middle">−<tspan dx="-1.3">0.1</tspan></text><line x1="303.00" y1="493.5" x2="303.00" y2="497.3" stroke="#555" stroke-width="1.1"/><text x="302.60" y="509.0" font-size="11.8" fill="#4D4D4D" text-anchor="middle">0.0</text><line x1="380.80" y1="493.5" x2="380.80" y2="497.3" stroke="#555" stroke-width="1.1"/><text x="380.40" y="509.0" font-size="11.8" fill="#4D4D4D" text-anchor="middle">0.1</text><line x1="458.60" y1="493.5" x2="458.60" y2="497.3" stroke="#555" stroke-width="1.1"/><text x="458.20" y="509.0" font-size="11.8" fill="#4D4D4D" text-anchor="middle">0.2</text><line x1="60.7" y1="479.90" x2="64.5" y2="479.90" stroke="#555" stroke-width="1.1"/><text x="58.0" y="484.20" font-size="11.8" fill="#4D4D4D" text-anchor="end">−<tspan dx="-1.2">0.2</tspan></text><line x1="60.7" y1="402.10" x2="64.5" y2="402.10" stroke="#555" stroke-width="1.1"/><text x="58.0" y="406.40" font-size="11.8" fill="#4D4D4D" text-anchor="end">−<tspan dx="-1.2">0.1</tspan></text><line x1="60.7" y1="324.30" x2="64.5" y2="324.30" stroke="#555" stroke-width="1.1"/><text x="58.0" y="328.60" font-size="11.8" fill="#4D4D4D" text-anchor="end">0.0</text><line x1="60.7" y1="246.50" x2="64.5" y2="246.50" stroke="#555" stroke-width="1.1"/><text x="58.0" y="250.80" font-size="11.8" fill="#4D4D4D" text-anchor="end">0.1</text><line x1="60.7" y1="168.70" x2="64.5" y2="168.70" stroke="#555" stroke-width="1.1"/><text x="58.0" y="173.00" font-size="11.8" fill="#4D4D4D" text-anchor="end">0.2</text><line x1="60.7" y1="90.90" x2="64.5" y2="90.90" stroke="#555" stroke-width="1.1"/><text x="58.0" y="95.20" font-size="11.8" fill="#4D4D4D" text-anchor="end">0.3</text><text x="0" y="0" font-size="14.2" fill="#1a1a1a" text-anchor="middle" transform="translate(275.1,525.3) scale(0.94,1)">MDS1</text><text x="0" y="0" font-size="14.5" fill="#1a1a1a" text-anchor="middle" transform="translate(31.9,271.9) rotate(-90)">MDS2</text></g><g transform="translate(488,522)"><text x="0" y="0" font-size="39" fill="#000" transform="translate(63.2,32.8)">d</text><line x1="69.60" y1="50.0" x2="69.60" y2="493.5" stroke="#EBEBEB" stroke-width="1.1"/><line x1="108.50" y1="50.0" x2="108.50" y2="493.5" stroke="#EBEBEB" stroke-width="0.6"/><line x1="147.40" y1="50.0" x2="147.40" y2="493.5" stroke="#EBEBEB" stroke-width="1.1"/><line x1="186.30" y1="50.0" x2="186.30" y2="493.5" stroke="#EBEBEB" stroke-width="0.6"/><line x1="225.20" y1="50.0" x2="225.20" y2="493.5" stroke="#EBEBEB" stroke-width="1.1"/><line x1="264.10" y1="50.0" x2="264.10" y2="493.5" stroke="#EBEBEB" stroke-width="0.6"/><line x1="303.00" y1="50.0" x2="303.00" y2="493.5" stroke="#EBEBEB" stroke-width="1.1"/><line x1="341.90" y1="50.0" x2="341.90" y2="493.5" stroke="#EBEBEB" stroke-width="0.6"/><line x1="380.80" y1="50.0" x2="380.80" y2="493.5" stroke="#EBEBEB" stroke-width="1.1"/><line x1="419.70" y1="50.0" x2="419.70" y2="493.5" stroke="#EBEBEB" stroke-width="0.6"/><line x1="458.60" y1="50.0" x2="458.60" y2="493.5" stroke="#EBEBEB" stroke-width="1.1"/><line x1="64.5" y1="479.90" x2="487.0" y2="479.90" stroke="#EBEBEB" stroke-width="1.1"/><line x1="64.5" y1="441.00" x2="487.0" y2="441.00" stroke="#EBEBEB" stroke-width="0.6"/><line x1="64.5" y1="402.10" x2="487.0" y2="402.10" stroke="#EBEBEB" stroke-width="1.1"/><line x1="64.5" y1="363.20" x2="487.0" y2="363.20" stroke="#EBEBEB" stroke-width="0.6"/><line x1="64.5" y1="324.30" x2="487.0" y2="324.30" stroke="#EBEBEB" stroke-width="1.1"/><line x1="64.5" y1="285.40" x2="487.0" y2="285.40" stroke="#EBEBEB" stroke-width="0.6"/><line x1="64.5" y1="246.50" x2="487.0" y2="246.50" stroke="#EBEBEB" stroke-width="1.1"/><line x1="64.5" y1="207.60" x2="487.0" y2="207.60" stroke="#EBEBEB" stroke-width="0.6"/><line x1="64.5" y1="168.70" x2="487.0" y2="168.70" stroke="#EBEBEB" stroke-width="1.1"/><line x1="64.5" y1="129.80" x2="487.0" y2="129.80" stroke="#EBEBEB" stroke-width="0.6"/><line x1="64.5" y1="90.90" x2="487.0" y2="90.90" stroke="#EBEBEB" stroke-width="1.1"/><line x1="64.5" y1="52.00" x2="487.0" y2="52.00" stroke="#EBEBEB" stroke-width="0.6"/><circle cx="179.1" cy="243.2" r="2.3" fill="#999999"/><circle cx="145.0" cy="264.8" r="2.3" fill="#999999"/><circle cx="130.7" cy="280.8" r="2.3" fill="#999999"/><circle cx="121.9" cy="300.9" r="2.3" fill="#999999"/><circle cx="138.6" cy="303.3" r="2.3" fill="#999999"/><circle cx="114.3" cy="316.2" r="2.3" fill="#999999"/><circle cx="119.7" cy="327.3" r="2.3" fill="#999999"/><circle cx="112.2" cy="333.1" r="2.3" fill="#999999"/><circle cx="167.7" cy="314.7" r="2.3" fill="#999999"/><circle cx="168.0" cy="336.3" r="2.3" fill="#999999"/><circle cx="173.5" cy="341.1" r="2.3" fill="#999999"/><circle cx="181.4" cy="331.7" r="2.3" fill="#999999"/><circle cx="189.0" cy="322.1" r="2.3" fill="#999999"/><circle cx="196.6" cy="304.8" r="2.3" fill="#999999"/><circle cx="195.5" cy="310.2" r="2.3" fill="#999999"/><circle cx="198.7" cy="316.2" r="2.3" fill="#999999"/><circle cx="198.0" cy="331.4" r="2.3" fill="#999999"/><circle cx="207.8" cy="307.9" r="2.3" fill="#999999"/><circle cx="209.8" cy="323.2" r="2.3" fill="#999999"/><circle cx="206.8" cy="325.0" r="2.3" fill="#999999"/><circle cx="205.8" cy="331.9" r="2.3" fill="#999999"/><circle cx="206.8" cy="338.5" r="2.3" fill="#999999"/><circle cx="261.3" cy="287.5" r="2.3" fill="#999999"/><circle cx="277.9" cy="289.6" r="2.3" fill="#999999"/><circle cx="225.0" cy="295.0" r="2.3" fill="#999999"/><circle cx="218.3" cy="315.0" r="2.3" fill="#999999"/><circle cx="215.0" cy="317.8" r="2.3" fill="#EEDD33"/><circle cx="216.5" cy="324.7" r="2.3" fill="#999999"/><circle cx="239.8" cy="324.0" r="2.3" fill="#999999"/><circle cx="255.5" cy="323.0" r="2.3" fill="#999999"/><circle cx="249.7" cy="328.0" r="2.3" fill="#999999"/><circle cx="258.8" cy="327.7" r="2.3" fill="#999999"/><circle cx="258.3" cy="308.8" r="2.3" fill="#999999"/><circle cx="257.0" cy="312.5" r="2.3" fill="#999999"/><circle cx="268.4" cy="330.9" r="2.3" fill="#999999"/><circle cx="268.4" cy="335.2" r="2.3" fill="#999999"/><circle cx="214.5" cy="338.0" r="2.3" fill="#999999"/><circle cx="212.2" cy="342.0" r="2.3" fill="#999999"/><circle cx="218.7" cy="343.2" r="2.3" fill="#EEDD33"/><circle cx="257.0" cy="338.0" r="2.3" fill="#999999"/><circle cx="223.2" cy="351.1" r="2.3" fill="#999999"/><circle cx="238.0" cy="352.4" r="2.3" fill="#999999"/><circle cx="249.0" cy="349.2" r="2.3" fill="#999999"/><circle cx="203.0" cy="354.9" r="2.3" fill="#999999"/><circle cx="217.1" cy="356.5" r="2.3" fill="#999999"/><circle cx="217.5" cy="355.5" r="2.3" fill="#999999"/><circle cx="186.0" cy="358.0" r="2.3" fill="#999999"/><circle cx="275.7" cy="356.8" r="2.3" fill="#999999"/><circle cx="236.3" cy="248.5" r="2.3" fill="#999999"/><circle cx="244.3" cy="272.3" r="2.3" fill="#999999"/><circle cx="280.0" cy="277.3" r="2.3" fill="#EEDD33"/><circle cx="305.5" cy="288.8" r="2.3" fill="#999999"/><circle cx="333.0" cy="69.6" r="2.3" fill="#999999"/><circle cx="308.6" cy="193.0" r="2.3" fill="#999999"/><circle cx="381.0" cy="197.0" r="2.3" fill="#AA4499"/><circle cx="363.2" cy="219.8" r="2.3" fill="#999999"/><circle cx="347.0" cy="233.7" r="2.3" fill="#999999"/><circle cx="356.0" cy="241.9" r="2.3" fill="#AA4499"/><circle cx="407.0" cy="237.6" r="2.3" fill="#AA4499"/><circle cx="396.2" cy="239.0" r="2.3" fill="#AA4499"/><circle cx="403.0" cy="254.5" r="2.3" fill="#AA4499"/><circle cx="370.0" cy="251.5" r="2.3" fill="#999999"/><circle cx="366.5" cy="258.2" r="2.3" fill="#999999"/><circle cx="326.3" cy="267.3" r="2.3" fill="#999999"/><circle cx="339.3" cy="269.0" r="2.3" fill="#AA4499"/><circle cx="357.5" cy="272.5" r="2.3" fill="#AA4499"/><circle cx="379.7" cy="266.2" r="2.3" fill="#AA4499"/><circle cx="384.0" cy="272.2" r="2.3" fill="#EEDD33"/><circle cx="391.3" cy="274.7" r="2.3" fill="#999999"/><circle cx="361.0" cy="280.7" r="2.3" fill="#999999"/><circle cx="327.5" cy="289.3" r="2.3" fill="#999999"/><circle cx="339.5" cy="286.7" r="2.3" fill="#999999"/><circle cx="350.5" cy="288.5" r="2.3" fill="#999999"/><circle cx="379.0" cy="288.7" r="2.3" fill="#EEDD33"/><circle cx="383.2" cy="293.8" r="2.3" fill="#EEDD33"/><circle cx="404.7" cy="287.5" r="2.3" fill="#EEDD33"/><circle cx="316.3" cy="306.2" r="2.3" fill="#999999"/><circle cx="343.4" cy="304.6" r="2.3" fill="#AA4499"/><circle cx="360.7" cy="305.5" r="2.3" fill="#EEDD33"/><circle cx="364.8" cy="305.7" r="2.3" fill="#999999"/><circle cx="392.5" cy="305.5" r="2.3" fill="#AA4499"/><circle cx="450.3" cy="274.5" r="2.3" fill="#EEDD33"/><circle cx="415.7" cy="292.7" r="2.3" fill="#EEDD33"/><circle cx="424.8" cy="297.2" r="2.3" fill="#AA4499"/><circle cx="436.0" cy="307.8" r="2.3" fill="#EEDD33"/><circle cx="453.2" cy="305.0" r="2.3" fill="#AA4499"/><circle cx="411.3" cy="312.7" r="2.3" fill="#EEDD33"/><circle cx="410.7" cy="319.8" r="2.3" fill="#EEDD33"/><circle cx="415.2" cy="322.8" r="2.3" fill="#999999"/><circle cx="417.0" cy="321.0" r="2.3" fill="#EEDD33"/><circle cx="391.5" cy="320.5" r="2.3" fill="#EEDD33"/><circle cx="397.0" cy="323.7" r="2.3" fill="#EEDD33"/><circle cx="387.2" cy="325.8" r="2.3" fill="#EEDD33"/><circle cx="395.0" cy="328.8" r="2.3" fill="#EEDD33"/><circle cx="408.5" cy="332.2" r="2.3" fill="#EEDD33"/><circle cx="391.3" cy="334.5" r="2.3" fill="#EEDD33"/><circle cx="404.0" cy="338.5" r="2.3" fill="#EEDD33"/><circle cx="376.0" cy="352.5" r="2.3" fill="#EEDD33"/><circle cx="390.3" cy="351.5" r="2.3" fill="#AA4499"/><circle cx="402.0" cy="375.7" r="2.3" fill="#EEDD33"/><circle cx="407.3" cy="375.2" r="2.3" fill="#EEDD33"/><circle cx="409.2" cy="376.2" r="2.3" fill="#EEDD33"/><circle cx="418.5" cy="373.2" r="2.3" fill="#EEDD33"/><circle cx="405.0" cy="384.1" r="2.3" fill="#EEDD33"/><circle cx="379.1" cy="385.9" r="2.3" fill="#EEDD33"/><circle cx="399.1" cy="393.4" r="2.3" fill="#EEDD33"/><circle cx="440.8" cy="390.1" r="2.3" fill="#EEDD33"/><circle cx="377.1" cy="401.8" r="2.3" fill="#EEDD33"/><circle cx="426.7" cy="401.7" r="2.3" fill="#EEDD33"/><circle cx="417.4" cy="417.5" r="2.3" fill="#EEDD33"/><circle cx="415.7" cy="421.1" r="2.3" fill="#EEDD33"/><circle cx="404.7" cy="422.2" r="2.3" fill="#EEDD33"/><circle cx="429.8" cy="420.0" r="2.3" fill="#EEDD33"/><circle cx="468.0" cy="422.8" r="2.3" fill="#EEDD33"/><circle cx="456.5" cy="443.9" r="2.3" fill="#EEDD33"/><circle cx="439.4" cy="469.0" r="2.3" fill="#EEDD33"/><circle cx="436.6" cy="473.6" r="2.3" fill="#EEDD33"/><circle cx="303.3" cy="345.0" r="2.3" fill="#999999"/><circle cx="329.0" cy="405.0" r="2.3" fill="#999999"/><circle cx="83.2" cy="364.3" r="2.3" fill="#999999"/><circle cx="151.8" cy="363.5" r="2.3" fill="#EEDD33"/><circle cx="160.0" cy="361.3" r="2.3" fill="#999999"/><circle cx="143.7" cy="400.0" r="2.3" fill="#999999"/><circle cx="160.8" cy="418.0" r="2.3" fill="#999999"/><circle cx="136.8" cy="451.4" r="2.3" fill="#999999"/><circle cx="172.8" cy="473.8" r="2.3" fill="#EEDD33"/><circle cx="249.5" cy="389.0" r="2.3" fill="#999999"/><circle cx="225.6" cy="335.9" r="2.3" fill="#999999"/><circle cx="238.3" cy="339.5" r="2.3" fill="#999999"/><line x1="246.2" y1="342.6" x2="249.0" y2="349.2" stroke="#555" stroke-width="0.6"/><rect x="283.5" y="274.0" width="25.0" height="10.5" rx="2" fill="#999999"/><text x="296.0" y="283.0" font-size="10.3" font-weight="bold" fill="#fff" text-anchor="middle">KAB</text><rect x="335.0" y="258.0" width="27.0" height="10.5" rx="2" fill="#AA4499"/><text x="348.5" y="267.0" font-size="10.3" font-weight="bold" fill="#fff" text-anchor="middle">ZGW</text><rect x="382.2" y="240.0" width="23.0" height="10.5" rx="2" fill="#AA4499"/><text x="393.7" y="249.0" font-size="10.3" font-weight="bold" fill="#fff" text-anchor="middle">DAJ</text><rect x="365.8" y="311.0" width="24.7" height="10.8" rx="2" fill="#EEDD33"/><text x="378.1" y="320.3" font-size="10.3" font-weight="bold" fill="#fff" text-anchor="middle">SNK</text><rect x="368.5" y="337.2" width="25.0" height="10.3" rx="2" fill="#AA4499"/><text x="381.0" y="346.0" font-size="10.3" font-weight="bold" fill="#fff" text-anchor="middle">SON</text><rect x="220.5" y="333.0" width="25.7" height="10.5" rx="2" fill="#999999"/><text x="233.3" y="342.0" font-size="10.3" font-weight="bold" fill="#fff" text-anchor="middle">AMA</text><rect x="253.7" y="342.2" width="27.1" height="10.6" rx="2" fill="#999999"/><text x="267.2" y="351.3" font-size="10.3" font-weight="bold" fill="#fff" text-anchor="middle">MOO</text><rect x="288.8" y="330.3" width="25.5" height="10.5" rx="2" fill="#999999"/><text x="301.6" y="339.3" font-size="10.3" font-weight="bold" fill="#fff" text-anchor="middle">TGM</text><rect x="309.0" y="390.5" width="21.8" height="10.3" rx="2" fill="#999999"/><text x="319.9" y="399.3" font-size="10.3" font-weight="bold" fill="#fff" text-anchor="middle">IMR</text><rect x="356.0" y="387.4" width="24.0" height="10.8" rx="2" fill="#EEDD33"/><text x="368.0" y="396.7" font-size="10.3" font-weight="bold" fill="#fff" text-anchor="middle">FML</text><rect x="373.4" y="406.0" width="25.2" height="10.8" rx="2" fill="#EEDD33"/><text x="386.0" y="415.3" font-size="10.3" font-weight="bold" fill="#fff" text-anchor="middle">FMA</text><line x1="303.00" y1="50.0" x2="303.00" y2="493.5" stroke="#333" stroke-width="1" stroke-dasharray="1 2.4"/><line x1="64.5" y1="324.30" x2="487.0" y2="324.30" stroke="#333" stroke-width="1" stroke-dasharray="1 2.4"/><rect x="65" y="54" width="108" height="80.2" fill="#fff"/><text x="76" y="73.8" font-size="14.1" fill="#1a1a1a">Language</text><rect x="75.8" y="81.8" width="15.3" height="15.4" fill="#999999"/><text x="83.45" y="92.8" font-size="10.8" fill="#fff" stroke="#fff" stroke-width="0.25" text-anchor="middle">a</text><text x="98.7" y="94.0" font-size="11.5" fill="#1a1a1a">Afro-Asiatic</text><rect x="75.8" y="97.2" width="15.3" height="15.4" fill="#EEDD33"/><text x="83.45" y="108.2" font-size="10.8" fill="#fff" stroke="#fff" stroke-width="0.25" text-anchor="middle">a</text><text x="98.7" y="109.4" font-size="11.5" fill="#1a1a1a">Niger-Congo</text><rect x="75.8" y="112.6" width="15.3" height="15.4" fill="#AA4499"/><text x="83.45" y="123.6" font-size="10.8" fill="#fff" stroke="#fff" stroke-width="0.25" text-anchor="middle">a</text><text x="98.7" y="124.8" font-size="11.5" fill="#1a1a1a">Nilo-Saharan</text><rect x="64.5" y="50.0" width="422.5" height="443.5" fill="none" stroke="#666" stroke-width="1.25"/><line x1="69.60" y1="493.5" x2="69.60" y2="497.3" stroke="#555" stroke-width="1.1"/><text x="68.20" y="509.0" font-size="11.8" fill="#4D4D4D" text-anchor="middle">−<tspan dx="-1.3">0.3</tspan></text><line x1="147.40" y1="493.5" x2="147.40" y2="497.3" stroke="#555" stroke-width="1.1"/><text x="146.00" y="509.0" font-size="11.8" fill="#4D4D4D" text-anchor="middle">−<tspan dx="-1.3">0.2</tspan></text><line x1="225.20" y1="493.5" x2="225.20" y2="497.3" stroke="#555" stroke-width="1.1"/><text x="223.80" y="509.0" font-size="11.8" fill="#4D4D4D" text-anchor="middle">−<tspan dx="-1.3">0.1</tspan></text><line x1="303.00" y1="493.5" x2="303.00" y2="497.3" stroke="#555" stroke-width="1.1"/><text x="302.60" y="509.0" font-size="11.8" fill="#4D4D4D" text-anchor="middle">0.0</text><line x1="380.80" y1="493.5" x2="380.80" y2="497.3" stroke="#555" stroke-width="1.1"/><text x="380.40" y="509.0" font-size="11.8" fill="#4D4D4D" text-anchor="middle">0.1</text><line x1="458.60" y1="493.5" x2="458.60" y2="497.3" stroke="#555" stroke-width="1.1"/><text x="458.20" y="509.0" font-size="11.8" fill="#4D4D4D" text-anchor="middle">0.2</text><line x1="60.7" y1="479.90" x2="64.5" y2="479.90" stroke="#555" stroke-width="1.1"/><text x="58.0" y="484.20" font-size="11.8" fill="#4D4D4D" text-anchor="end">−<tspan dx="-1.2">0.2</tspan></text><line x1="60.7" y1="402.10" x2="64.5" y2="402.10" stroke="#555" stroke-width="1.1"/><text x="58.0" y="406.40" font-size="11.8" fill="#4D4D4D" text-anchor="end">−<tspan dx="-1.2">0.1</tspan></text><line x1="60.7" y1="324.30" x2="64.5" y2="324.30" stroke="#555" stroke-width="1.1"/><text x="58.0" y="328.60" font-size="11.8" fill="#4D4D4D" text-anchor="end">0.0</text><line x1="60.7" y1="246.50" x2="64.5" y2="246.50" stroke="#555" stroke-width="1.1"/><text x="58.0" y="250.80" font-size="11.8" fill="#4D4D4D" text-anchor="end">0.1</text><line x1="60.7" y1="168.70" x2="64.5" y2="168.70" stroke="#555" stroke-width="1.1"/><text x="58.0" y="173.00" font-size="11.8" fill="#4D4D4D" text-anchor="end">0.2</text><line x1="60.7" y1="90.90" x2="64.5" y2="90.90" stroke="#555" stroke-width="1.1"/><text x="58.0" y="95.20" font-size="11.8" fill="#4D4D4D" text-anchor="end">0.3</text><text x="0" y="0" font-size="14.2" fill="#1a1a1a" text-anchor="middle" transform="translate(275.1,525.3) scale(0.94,1)">MDS1</text><text x="0" y="0" font-size="14.5" fill="#1a1a1a" text-anchor="middle" transform="translate(31.9,271.9) rotate(-90)">MDS2</text></g></g></svg></body></html>
